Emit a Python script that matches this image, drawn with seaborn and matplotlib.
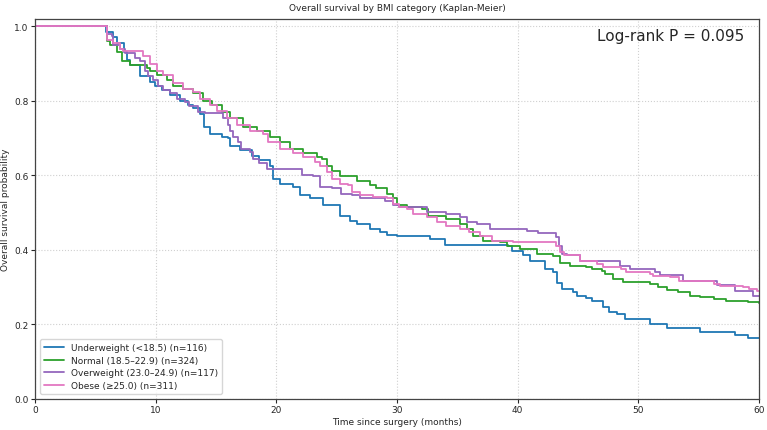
import pandas as pd
import matplotlib
matplotlib.use("Agg")
import matplotlib.pyplot as plt
import seaborn as sns

# Curvas de Kaplan-Meier (tempo em meses, sobrevida)
under_t = [0, 5.88, 6.46, 6.79, 7.37, 7.62, 7.87, 8.70, 9.53, 9.94, 10.5, 11.2, 12.0, 12.7, 13.1,
           13.7, 14.0, 14.5, 15.5, 16.0, 16.2, 17.0, 18.0, 18.6, 19.5, 19.7, 20.3, 21.4, 22.0,
           22.8, 23.9, 25.3, 26.1, 26.7, 27.8, 28.6, 29.2, 30.0, 32.7, 34.0, 39.2, 39.5, 40.4,
           41.0, 42.3, 42.9, 43.3, 43.7, 44.6, 44.9, 45.7, 46.2, 47.1, 47.6, 48.2, 48.9, 51.0,
           52.4, 55.1, 58.0, 59.1, 60]
under_s = [1.0, 0.985, 0.97, 0.955, 0.93, 0.91, 0.895, 0.866, 0.85, 0.84, 0.83, 0.815, 0.80, 0.788,
           0.78, 0.765, 0.73, 0.71, 0.704, 0.70, 0.68, 0.667, 0.653, 0.64, 0.626, 0.59, 0.578,
           0.57, 0.546, 0.54, 0.52, 0.49, 0.478, 0.47, 0.457, 0.449, 0.44, 0.438, 0.43, 0.414,
           0.41, 0.398, 0.385, 0.371, 0.35, 0.34, 0.31, 0.296, 0.288, 0.277, 0.27, 0.264, 0.247,
           0.234, 0.228, 0.215, 0.20, 0.19, 0.18, 0.172, 0.164, 0.164]

normal_t = [0, 5.94, 6.21, 6.79, 7.21, 7.87, 9.28, 9.53, 10.1, 10.9, 11.4, 12.3, 13.1, 13.9, 14.7,
            15.5, 16.2, 17.2, 18.4, 19.5, 20.3, 21.1, 22.2, 23.4, 23.8, 24.2, 24.6, 25.3, 26.7,
            27.8, 28.3, 29.2, 29.7, 30.0, 30.8, 32.1, 32.6, 34.1, 35.2, 35.8, 36.3, 37.1, 38.5,
            39.1, 40.2, 41.6, 42.9, 43.5, 44.3, 45.7, 46.2, 47.0, 47.2, 47.9, 48.7, 51.0, 51.6,
            52.4, 53.3, 54.3, 55.1, 56.3, 57.3, 59.1, 60]
normal_s = [1.0, 0.96, 0.95, 0.93, 0.908, 0.895, 0.887, 0.879, 0.868, 0.855, 0.84, 0.833, 0.82,
            0.80, 0.788, 0.77, 0.753, 0.73, 0.718, 0.704, 0.69, 0.672, 0.659, 0.65, 0.645, 0.624,
            0.613, 0.597, 0.586, 0.573, 0.565, 0.551, 0.538, 0.52, 0.516, 0.511, 0.49, 0.484,
            0.47, 0.457, 0.438, 0.425, 0.422, 0.411, 0.403, 0.39, 0.384, 0.365, 0.358, 0.355,
            0.35, 0.344, 0.336, 0.323, 0.315, 0.309, 0.301, 0.293, 0.288, 0.277, 0.274, 0.269,
            0.263, 0.26, 0.258]

over_t = [0, 5.97, 6.38, 6.46, 7.04, 7.46, 8.29, 8.70, 9.11, 9.36, 9.78, 10.2, 10.6, 11.2, 11.8,
          12.4, 12.8, 13.5, 14.1, 15.6, 16.0, 16.2, 16.4, 16.8, 17.1, 17.8, 18.1, 18.6, 19.2,
          22.1, 23.0, 23.6, 24.6, 25.4, 26.3, 26.9, 29.0, 29.7, 30.2, 32.5, 34.1, 35.2, 35.8,
          36.6, 37.7, 40.8, 41.7, 43.2, 43.4, 43.7, 44.1, 45.2, 48.5, 49.3, 51.4, 51.8, 53.7,
          56.5, 58.0, 59.5, 60]
over_s = [1.0, 0.98, 0.973, 0.95, 0.94, 0.927, 0.914, 0.906, 0.879, 0.866, 0.855, 0.84, 0.828,
          0.82, 0.806, 0.798, 0.785, 0.77, 0.766, 0.753, 0.734, 0.718, 0.704, 0.69, 0.672, 0.664,
          0.645, 0.632, 0.616, 0.602, 0.597, 0.57, 0.565, 0.551, 0.546, 0.54, 0.53, 0.52, 0.516,
          0.503, 0.497, 0.489, 0.476, 0.47, 0.457, 0.452, 0.444, 0.435, 0.41, 0.39, 0.385, 0.371,
          0.358, 0.35, 0.341, 0.333, 0.317, 0.306, 0.29, 0.277, 0.277]

obese_t = [0, 5.97, 6.46, 7.04, 7.29, 8.95, 9.53, 10.1, 10.6, 11.4, 12.3, 13.1, 13.7, 14.5, 15.1,
           15.9, 16.7, 17.8, 18.9, 19.3, 20.3, 21.4, 22.2, 23.2, 23.6, 24.2, 24.6, 25.3, 25.9,
           26.3, 26.9, 28.0, 29.2, 29.7, 30.2, 30.8, 31.3, 32.5, 33.3, 34.1, 35.2, 36.0, 36.9,
           37.9, 39.6, 43.2, 43.5, 43.8, 45.2, 46.6, 47.1, 48.6, 49.0, 51.0, 51.2, 52.6, 53.4,
           56.3, 56.8, 58.7, 59.2, 59.8, 60]
obese_s = [1.0, 0.962, 0.954, 0.94, 0.935, 0.92, 0.90, 0.879, 0.868, 0.847, 0.833, 0.825, 0.806,
           0.788, 0.774, 0.753, 0.734, 0.72, 0.712, 0.69, 0.672, 0.659, 0.65, 0.637, 0.626, 0.61,
           0.591, 0.578, 0.573, 0.556, 0.546, 0.543, 0.538, 0.524, 0.516, 0.511, 0.497, 0.489,
           0.476, 0.465, 0.457, 0.449, 0.438, 0.425, 0.422, 0.411, 0.395, 0.385, 0.371, 0.363,
           0.355, 0.35, 0.341, 0.336, 0.33, 0.328, 0.317, 0.309, 0.304, 0.30, 0.296, 0.29, 0.29]

labels = ["Underweight (<18.5) (n=116)", "Normal (18.5–22.9) (n=324)",
          "Overweight (23.0–24.9) (n=117)", "Obese (≥25.0) (n=311)"]
cores = ["#1f77b4", "#2ca02c", "#9467bd", "#e377c2"]
p_valor = "Log-rank P = 0.095"

# Montar tabela longa
frames = []
for lab, t, s in zip(labels, [under_t, normal_t, over_t, obese_t],
                     [under_s, normal_s, over_s, obese_s]):
    frames.append(pd.DataFrame({"time": t, "surv": s, "group": lab}))
df = pd.concat(frames, ignore_index=True)

sns.set_style("ticks")
plt.rcParams["font.family"] = ["DejaVu Sans"]

fig = plt.figure(figsize=(7.67, 4.31), dpi=100)
ax = fig.add_axes([0.0456, 0.072, 0.944, 0.882])

sns.lineplot(data=df, x="time", y="surv", hue="group", hue_order=labels,
             palette=cores, estimator=None, sort=False, drawstyle="steps-post",
             linewidth=1.3, ax=ax)

ax.set_xlim(0, 60)
ax.set_ylim(0, 1.02)
ax.set_xticks(range(0, 61, 10))
ax.set_yticks([0.0, 0.2, 0.4, 0.6, 0.8, 1.0])
ax.set_yticklabels(["0.0", "0.2", "0.4", "0.6", "0.8", "1.0"])
ax.tick_params(labelsize=6.5, length=3, width=0.8, pad=1.5)
ax.grid(True, linestyle=":", color="#d0d0d0", linewidth=0.8)
for sp in ax.spines.values():
    sp.set_color("#444444")
    sp.set_linewidth(0.9)

ax.set_xlabel("Time since surgery (months)", fontsize=6.5, labelpad=2)
ax.set_ylabel("Overall survival probability", fontsize=6.5, labelpad=3)
ax.set_title("Overall survival by BMI category (Kaplan-Meier)", fontsize=6.5, pad=6)

ax.text(0.98, 0.975, p_valor, transform=ax.transAxes, ha="right", va="top", fontsize=11)

ax.legend(loc="lower left", fontsize=6.5, frameon=True, handlelength=2.2,
          borderaxespad=0.6, labelspacing=0.4)

plt.savefig("out.png", dpi=100)
plt.close()
